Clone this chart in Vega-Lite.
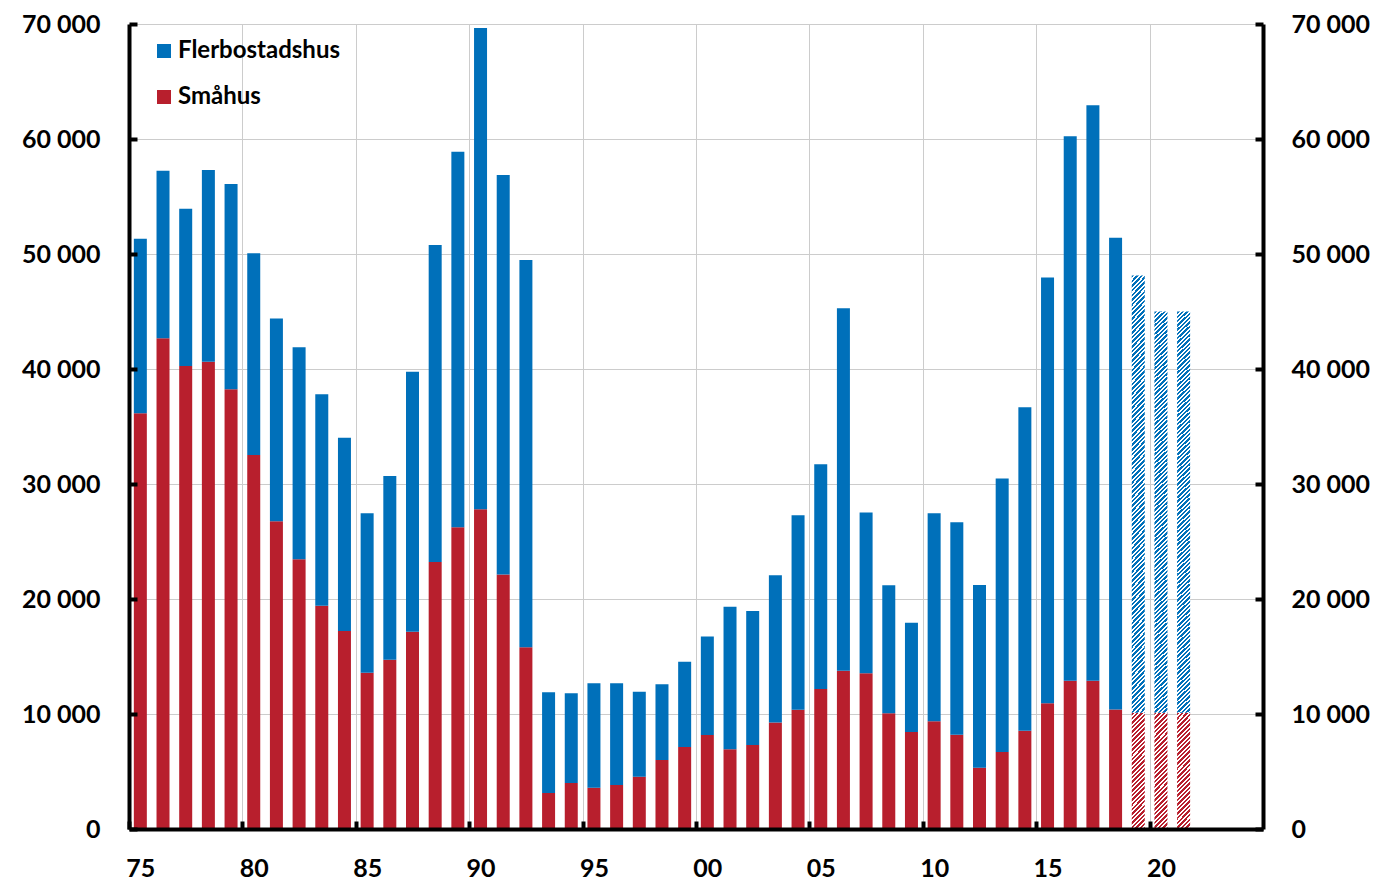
{
"$schema": "https://vega.github.io/schema/vega-lite/v6.json",
"width": 1134, "height": 805,
"autosize": {"type": "none"},
"padding": {"left": 129, "top": 24, "right": 119, "bottom": 53},
"background": "white",
"config": {"view": {"stroke": null}, "font": "Lato"},
"data": {"values": [
{"year":1975,"smahus":36150,"totalt":51330,"prognos":false},
{"year":1976,"smahus":42670,"totalt":57240,"prognos":false},
{"year":1977,"smahus":40260,"totalt":53940,"prognos":false},
{"year":1978,"smahus":40640,"totalt":57300,"prognos":false},
{"year":1979,"smahus":38230,"totalt":56090,"prognos":false},
{"year":1980,"smahus":32520,"totalt":50060,"prognos":false},
{"year":1981,"smahus":26760,"totalt":44400,"prognos":false},
{"year":1982,"smahus":23450,"totalt":41890,"prognos":false},
{"year":1983,"smahus":19420,"totalt":37800,"prognos":false},
{"year":1984,"smahus":17220,"totalt":34030,"prognos":false},
{"year":1985,"smahus":13590,"totalt":27450,"prognos":false},
{"year":1986,"smahus":14720,"totalt":30700,"prognos":false},
{"year":1987,"smahus":17160,"totalt":39770,"prognos":false},
{"year":1988,"smahus":23220,"totalt":50780,"prognos":false},
{"year":1989,"smahus":26230,"totalt":58900,"prognos":false},
{"year":1990,"smahus":27800,"totalt":69650,"prognos":false},
{"year":1991,"smahus":22120,"totalt":56870,"prognos":false},
{"year":1992,"smahus":15800,"totalt":49480,"prognos":false},
{"year":1993,"smahus":3130,"totalt":11900,"prognos":false},
{"year":1994,"smahus":4000,"totalt":11800,"prognos":false},
{"year":1995,"smahus":3590,"totalt":12670,"prognos":false},
{"year":1996,"smahus":3830,"totalt":12670,"prognos":false},
{"year":1997,"smahus":4550,"totalt":11940,"prognos":false},
{"year":1998,"smahus":6000,"totalt":12580,"prognos":false},
{"year":1999,"smahus":7130,"totalt":14550,"prognos":false},
{"year":2000,"smahus":8170,"totalt":16750,"prognos":false},
{"year":2001,"smahus":6930,"totalt":19330,"prognos":false},
{"year":2002,"smahus":7300,"totalt":18960,"prognos":false},
{"year":2003,"smahus":9270,"totalt":22060,"prognos":false},
{"year":2004,"smahus":10380,"totalt":27280,"prognos":false},
{"year":2005,"smahus":12170,"totalt":31710,"prognos":false},
{"year":2006,"smahus":13770,"totalt":45280,"prognos":false},
{"year":2007,"smahus":13540,"totalt":27530,"prognos":false},
{"year":2008,"smahus":10060,"totalt":21190,"prognos":false},
{"year":2009,"smahus":8430,"totalt":17940,"prognos":false},
{"year":2010,"smahus":9360,"totalt":27450,"prognos":false},
{"year":2011,"smahus":8200,"totalt":26670,"prognos":false},
{"year":2012,"smahus":5330,"totalt":21220,"prognos":false},
{"year":2013,"smahus":6700,"totalt":30470,"prognos":false},
{"year":2014,"smahus":8550,"totalt":36670,"prognos":false},
{"year":2015,"smahus":10930,"totalt":47950,"prognos":false},
{"year":2016,"smahus":12900,"totalt":60230,"prognos":false},
{"year":2017,"smahus":12900,"totalt":62930,"prognos":false},
{"year":2018,"smahus":10400,"totalt":51420,"prognos":false},
{"year":2019,"smahus":10100,"totalt":48120,"prognos":true},
{"year":2020,"smahus":10100,"totalt":44990,"prognos":true},
{"year":2021,"smahus":10100,"totalt":44990,"prognos":true}
]},
"layer": [
  {
    "transform": [{"filter": "!datum.prognos"}],
    "mark": {"type": "bar", "width": 13, "xOffset": 11.34},
    "encoding": {
      "x": {"field": "year", "type": "quantitative",
        "scale": {"domain": [1975, 2025], "nice": false, "zero": false, "padding": 0},
        "axis": {"orient": "bottom", "values": [1980,1985,1990,1995,2000,2005,2010,2015,2020],
          "grid": true, "gridColor": "#cccccc", "gridWidth": 1,
          "domain": false, "ticks": false, "labels": false, "title": null, "zindex": 0}},
      "y": {"field": "smahus", "type": "quantitative",
        "scale": {"domain": [0, 70000], "nice": false},
        "axis": {"orient": "left", "values": [10000,20000,30000,40000,50000,60000,70000],
          "grid": true, "gridColor": "#cccccc", "gridWidth": 1,
          "domain": false, "ticks": false, "labels": false, "title": null, "zindex": 0}},
      "color": {"datum": "Småhus", "type": "nominal",
        "scale": {"domain": ["Flerbostadshus", "Småhus"], "range": ["#0070ba", "#b81f2d"]},
        "legend": {"orient": "none", "legendX": 23, "legendY": 15, "title": null, "padding": 0,
          "symbolType": "square", "symbolSize": 196, "symbolStrokeWidth": 0,
          "labelFont": "Lato", "labelFontWeight": "bold", "labelFontSize": 24, "labelColor": "black",
          "labelLimit": 400, "rowPadding": 22, "labelOffset": 2}}
    }
  },
  {
    "transform": [{"filter": "!datum.prognos"}],
    "mark": {"type": "bar", "width": 13, "xOffset": 11.34},
    "encoding": {
      "x": {"field": "year", "type": "quantitative",
        "scale": {"domain": [1975, 2025], "nice": false, "zero": false, "padding": 0},
        "axis": {"orient": "bottom", "values": [1975,1980,1985,1990,1995,2000,2005,2010,2015,2020],
          "labelExpr": "substring(toString(datum.value), 2)",
          "labelOffset": 11.34, "labelPadding": 35, "labelFlush": false, "labelOverlap": false,
          "tickSize": -8, "tickWidth": 4, "tickColor": "black",
          "domainColor": "black", "domainWidth": 4, "grid": false,
          "labelFont": "Lato", "labelFontWeight": "bold", "labelFontSize": 25, "labelColor": "black",
          "title": null, "zindex": 1}},
      "y": {"field": "smahus", "type": "quantitative",
        "scale": {"domain": [0, 70000], "nice": false},
        "axis": {"orient": "left", "values": [0,10000,20000,30000,40000,50000,60000,70000],
          "labelExpr": "replace(format(datum.value, ','), ',', ' ')",
          "grid": false,
          "domainColor": "black", "domainWidth": 4,
          "tickSize": -8, "tickWidth": 4, "tickColor": "black",
          "labelPadding": 37, "labelFont": "Lato", "labelFontWeight": "bold", "labelFontSize": 25, "labelColor": "black",
          "title": null, "zindex": 1}},
      "y2": {"field": "totalt"},
      "color": {"datum": "Flerbostadshus", "type": "nominal"}
    }
  },
  {
    "transform": [{"filter": "datum.prognos"}],
    "mark": {"type": "bar", "width": 13, "xOffset": 11.34,
      "fill": {"gradient": "linear", "x1": 0, "y1": 0, "x2": 0.4368, "y2": 3.8637, "stops": [
{"offset":0,"color":"#b81f2d"},{"offset":0.0055,"color":"#b81f2d"},{"offset":0.0055,"color":"white"},{"offset":0.01,"color":"white"},
{"offset":0.01,"color":"#b81f2d"},{"offset":0.0155,"color":"#b81f2d"},{"offset":0.0155,"color":"white"},{"offset":0.02,"color":"white"},
{"offset":0.02,"color":"#b81f2d"},{"offset":0.0255,"color":"#b81f2d"},{"offset":0.0255,"color":"white"},{"offset":0.03,"color":"white"},
{"offset":0.03,"color":"#b81f2d"},{"offset":0.0355,"color":"#b81f2d"},{"offset":0.0355,"color":"white"},{"offset":0.04,"color":"white"},
{"offset":0.04,"color":"#b81f2d"},{"offset":0.0455,"color":"#b81f2d"},{"offset":0.0455,"color":"white"},{"offset":0.05,"color":"white"},
{"offset":0.05,"color":"#b81f2d"},{"offset":0.0555,"color":"#b81f2d"},{"offset":0.0555,"color":"white"},{"offset":0.06,"color":"white"},
{"offset":0.06,"color":"#b81f2d"},{"offset":0.0655,"color":"#b81f2d"},{"offset":0.0655,"color":"white"},{"offset":0.07,"color":"white"},
{"offset":0.07,"color":"#b81f2d"},{"offset":0.0755,"color":"#b81f2d"},{"offset":0.0755,"color":"white"},{"offset":0.08,"color":"white"},
{"offset":0.08,"color":"#b81f2d"},{"offset":0.0855,"color":"#b81f2d"},{"offset":0.0855,"color":"white"},{"offset":0.09,"color":"white"},
{"offset":0.09,"color":"#b81f2d"},{"offset":0.0955,"color":"#b81f2d"},{"offset":0.0955,"color":"white"},{"offset":0.1,"color":"white"},
{"offset":0.1,"color":"#b81f2d"},{"offset":0.1055,"color":"#b81f2d"},{"offset":0.1055,"color":"white"},{"offset":0.11,"color":"white"},
{"offset":0.11,"color":"#b81f2d"},{"offset":0.1155,"color":"#b81f2d"},{"offset":0.1155,"color":"white"},{"offset":0.12,"color":"white"},
{"offset":0.12,"color":"#b81f2d"},{"offset":0.1255,"color":"#b81f2d"},{"offset":0.1255,"color":"white"},{"offset":0.13,"color":"white"},
{"offset":0.13,"color":"#b81f2d"},{"offset":0.1355,"color":"#b81f2d"},{"offset":0.1355,"color":"white"},{"offset":0.14,"color":"white"},
{"offset":0.14,"color":"#b81f2d"},{"offset":0.1455,"color":"#b81f2d"},{"offset":0.1455,"color":"white"},{"offset":0.15,"color":"white"},
{"offset":0.15,"color":"#b81f2d"},{"offset":0.1555,"color":"#b81f2d"},{"offset":0.1555,"color":"white"},{"offset":0.16,"color":"white"},
{"offset":0.16,"color":"#b81f2d"},{"offset":0.1655,"color":"#b81f2d"},{"offset":0.1655,"color":"white"},{"offset":0.17,"color":"white"},
{"offset":0.17,"color":"#b81f2d"},{"offset":0.1755,"color":"#b81f2d"},{"offset":0.1755,"color":"white"},{"offset":0.18,"color":"white"},
{"offset":0.18,"color":"#b81f2d"},{"offset":0.1855,"color":"#b81f2d"},{"offset":0.1855,"color":"white"},{"offset":0.19,"color":"white"},
{"offset":0.19,"color":"#b81f2d"},{"offset":0.1955,"color":"#b81f2d"},{"offset":0.1955,"color":"white"},{"offset":0.2,"color":"white"},
{"offset":0.2,"color":"#b81f2d"},{"offset":0.2055,"color":"#b81f2d"},{"offset":0.2055,"color":"white"},{"offset":0.21,"color":"white"},
{"offset":0.21,"color":"#b81f2d"},{"offset":0.2155,"color":"#b81f2d"},{"offset":0.2155,"color":"white"},{"offset":0.22,"color":"white"},
{"offset":0.22,"color":"#b81f2d"},{"offset":0.2255,"color":"#b81f2d"},{"offset":0.2255,"color":"white"},{"offset":0.23,"color":"white"},
{"offset":0.23,"color":"#b81f2d"},{"offset":0.2355,"color":"#b81f2d"},{"offset":0.2355,"color":"white"},{"offset":0.24,"color":"white"},
{"offset":0.24,"color":"#b81f2d"},{"offset":0.2455,"color":"#b81f2d"},{"offset":0.2455,"color":"white"},{"offset":0.25,"color":"white"},
{"offset":0.25,"color":"#b81f2d"},{"offset":0.2555,"color":"#b81f2d"},{"offset":0.2555,"color":"white"},{"offset":0.26,"color":"white"},
{"offset":0.26,"color":"#b81f2d"},{"offset":0.2655,"color":"#b81f2d"},{"offset":0.2655,"color":"white"},{"offset":0.27,"color":"white"},
{"offset":0.27,"color":"#b81f2d"},{"offset":0.2755,"color":"#b81f2d"},{"offset":0.2755,"color":"white"},{"offset":0.28,"color":"white"},
{"offset":0.28,"color":"#b81f2d"},{"offset":0.2855,"color":"#b81f2d"},{"offset":0.2855,"color":"white"},{"offset":0.29,"color":"white"},
{"offset":0.29,"color":"#b81f2d"},{"offset":0.2955,"color":"#b81f2d"},{"offset":0.2955,"color":"white"},{"offset":1,"color":"white"}
      ]}},
    "encoding": {
      "x": {"field": "year", "type": "quantitative",
        "scale": {"domain": [1975, 2025], "nice": false, "zero": false, "padding": 0}, "axis": null},
      "y": {"field": "smahus", "type": "quantitative", "scale": {"domain": [0, 70000], "nice": false}, "axis": null}
    }
  },
  {
    "transform": [{"filter": "datum.prognos"}],
    "mark": {"type": "bar", "width": 13, "xOffset": 11.34,
      "fill": {"gradient": "linear", "x1": 0, "y1": 0, "x2": 0.03313, "y2": 1.0704, "stops": [
{"offset":0,"color":"#0070ba"},{"offset":0.0055,"color":"#0070ba"},{"offset":0.0055,"color":"white"},{"offset":0.01,"color":"white"},
{"offset":0.01,"color":"#0070ba"},{"offset":0.0155,"color":"#0070ba"},{"offset":0.0155,"color":"white"},{"offset":0.02,"color":"white"},
{"offset":0.02,"color":"#0070ba"},{"offset":0.0255,"color":"#0070ba"},{"offset":0.0255,"color":"white"},{"offset":0.03,"color":"white"},
{"offset":0.03,"color":"#0070ba"},{"offset":0.0355,"color":"#0070ba"},{"offset":0.0355,"color":"white"},{"offset":0.04,"color":"white"},
{"offset":0.04,"color":"#0070ba"},{"offset":0.0455,"color":"#0070ba"},{"offset":0.0455,"color":"white"},{"offset":0.05,"color":"white"},
{"offset":0.05,"color":"#0070ba"},{"offset":0.0555,"color":"#0070ba"},{"offset":0.0555,"color":"white"},{"offset":0.06,"color":"white"},
{"offset":0.06,"color":"#0070ba"},{"offset":0.0655,"color":"#0070ba"},{"offset":0.0655,"color":"white"},{"offset":0.07,"color":"white"},
{"offset":0.07,"color":"#0070ba"},{"offset":0.0755,"color":"#0070ba"},{"offset":0.0755,"color":"white"},{"offset":0.08,"color":"white"},
{"offset":0.08,"color":"#0070ba"},{"offset":0.0855,"color":"#0070ba"},{"offset":0.0855,"color":"white"},{"offset":0.09,"color":"white"},
{"offset":0.09,"color":"#0070ba"},{"offset":0.0955,"color":"#0070ba"},{"offset":0.0955,"color":"white"},{"offset":0.1,"color":"white"},
{"offset":0.1,"color":"#0070ba"},{"offset":0.1055,"color":"#0070ba"},{"offset":0.1055,"color":"white"},{"offset":0.11,"color":"white"},
{"offset":0.11,"color":"#0070ba"},{"offset":0.1155,"color":"#0070ba"},{"offset":0.1155,"color":"white"},{"offset":0.12,"color":"white"},
{"offset":0.12,"color":"#0070ba"},{"offset":0.1255,"color":"#0070ba"},{"offset":0.1255,"color":"white"},{"offset":0.13,"color":"white"},
{"offset":0.13,"color":"#0070ba"},{"offset":0.1355,"color":"#0070ba"},{"offset":0.1355,"color":"white"},{"offset":0.14,"color":"white"},
{"offset":0.14,"color":"#0070ba"},{"offset":0.1455,"color":"#0070ba"},{"offset":0.1455,"color":"white"},{"offset":0.15,"color":"white"},
{"offset":0.15,"color":"#0070ba"},{"offset":0.1555,"color":"#0070ba"},{"offset":0.1555,"color":"white"},{"offset":0.16,"color":"white"},
{"offset":0.16,"color":"#0070ba"},{"offset":0.1655,"color":"#0070ba"},{"offset":0.1655,"color":"white"},{"offset":0.17,"color":"white"},
{"offset":0.17,"color":"#0070ba"},{"offset":0.1755,"color":"#0070ba"},{"offset":0.1755,"color":"white"},{"offset":0.18,"color":"white"},
{"offset":0.18,"color":"#0070ba"},{"offset":0.1855,"color":"#0070ba"},{"offset":0.1855,"color":"white"},{"offset":0.19,"color":"white"},
{"offset":0.19,"color":"#0070ba"},{"offset":0.1955,"color":"#0070ba"},{"offset":0.1955,"color":"white"},{"offset":0.2,"color":"white"},
{"offset":0.2,"color":"#0070ba"},{"offset":0.2055,"color":"#0070ba"},{"offset":0.2055,"color":"white"},{"offset":0.21,"color":"white"},
{"offset":0.21,"color":"#0070ba"},{"offset":0.2155,"color":"#0070ba"},{"offset":0.2155,"color":"white"},{"offset":0.22,"color":"white"},
{"offset":0.22,"color":"#0070ba"},{"offset":0.2255,"color":"#0070ba"},{"offset":0.2255,"color":"white"},{"offset":0.23,"color":"white"},
{"offset":0.23,"color":"#0070ba"},{"offset":0.2355,"color":"#0070ba"},{"offset":0.2355,"color":"white"},{"offset":0.24,"color":"white"},
{"offset":0.24,"color":"#0070ba"},{"offset":0.2455,"color":"#0070ba"},{"offset":0.2455,"color":"white"},{"offset":0.25,"color":"white"},
{"offset":0.25,"color":"#0070ba"},{"offset":0.2555,"color":"#0070ba"},{"offset":0.2555,"color":"white"},{"offset":0.26,"color":"white"},
{"offset":0.26,"color":"#0070ba"},{"offset":0.2655,"color":"#0070ba"},{"offset":0.2655,"color":"white"},{"offset":0.27,"color":"white"},
{"offset":0.27,"color":"#0070ba"},{"offset":0.2755,"color":"#0070ba"},{"offset":0.2755,"color":"white"},{"offset":0.28,"color":"white"},
{"offset":0.28,"color":"#0070ba"},{"offset":0.2855,"color":"#0070ba"},{"offset":0.2855,"color":"white"},{"offset":0.29,"color":"white"},
{"offset":0.29,"color":"#0070ba"},{"offset":0.2955,"color":"#0070ba"},{"offset":0.2955,"color":"white"},{"offset":0.3,"color":"white"},
{"offset":0.3,"color":"#0070ba"},{"offset":0.3055,"color":"#0070ba"},{"offset":0.3055,"color":"white"},{"offset":0.31,"color":"white"},
{"offset":0.31,"color":"#0070ba"},{"offset":0.3155,"color":"#0070ba"},{"offset":0.3155,"color":"white"},{"offset":0.32,"color":"white"},
{"offset":0.32,"color":"#0070ba"},{"offset":0.3255,"color":"#0070ba"},{"offset":0.3255,"color":"white"},{"offset":0.33,"color":"white"},
{"offset":0.33,"color":"#0070ba"},{"offset":0.3355,"color":"#0070ba"},{"offset":0.3355,"color":"white"},{"offset":0.34,"color":"white"},
{"offset":0.34,"color":"#0070ba"},{"offset":0.3455,"color":"#0070ba"},{"offset":0.3455,"color":"white"},{"offset":0.35,"color":"white"},
{"offset":0.35,"color":"#0070ba"},{"offset":0.3555,"color":"#0070ba"},{"offset":0.3555,"color":"white"},{"offset":0.36,"color":"white"},
{"offset":0.36,"color":"#0070ba"},{"offset":0.3655,"color":"#0070ba"},{"offset":0.3655,"color":"white"},{"offset":0.37,"color":"white"},
{"offset":0.37,"color":"#0070ba"},{"offset":0.3755,"color":"#0070ba"},{"offset":0.3755,"color":"white"},{"offset":0.38,"color":"white"},
{"offset":0.38,"color":"#0070ba"},{"offset":0.3855,"color":"#0070ba"},{"offset":0.3855,"color":"white"},{"offset":0.39,"color":"white"},
{"offset":0.39,"color":"#0070ba"},{"offset":0.3955,"color":"#0070ba"},{"offset":0.3955,"color":"white"},{"offset":0.4,"color":"white"},
{"offset":0.4,"color":"#0070ba"},{"offset":0.4055,"color":"#0070ba"},{"offset":0.4055,"color":"white"},{"offset":0.41,"color":"white"},
{"offset":0.41,"color":"#0070ba"},{"offset":0.4155,"color":"#0070ba"},{"offset":0.4155,"color":"white"},{"offset":0.42,"color":"white"},
{"offset":0.42,"color":"#0070ba"},{"offset":0.4255,"color":"#0070ba"},{"offset":0.4255,"color":"white"},{"offset":0.43,"color":"white"},
{"offset":0.43,"color":"#0070ba"},{"offset":0.4355,"color":"#0070ba"},{"offset":0.4355,"color":"white"},{"offset":0.44,"color":"white"},
{"offset":0.44,"color":"#0070ba"},{"offset":0.4455,"color":"#0070ba"},{"offset":0.4455,"color":"white"},{"offset":0.45,"color":"white"},
{"offset":0.45,"color":"#0070ba"},{"offset":0.4555,"color":"#0070ba"},{"offset":0.4555,"color":"white"},{"offset":0.46,"color":"white"},
{"offset":0.46,"color":"#0070ba"},{"offset":0.4655,"color":"#0070ba"},{"offset":0.4655,"color":"white"},{"offset":0.47,"color":"white"},
{"offset":0.47,"color":"#0070ba"},{"offset":0.4755,"color":"#0070ba"},{"offset":0.4755,"color":"white"},{"offset":0.48,"color":"white"},
{"offset":0.48,"color":"#0070ba"},{"offset":0.4855,"color":"#0070ba"},{"offset":0.4855,"color":"white"},{"offset":0.49,"color":"white"},
{"offset":0.49,"color":"#0070ba"},{"offset":0.4955,"color":"#0070ba"},{"offset":0.4955,"color":"white"},{"offset":0.5,"color":"white"},
{"offset":0.5,"color":"#0070ba"},{"offset":0.5055,"color":"#0070ba"},{"offset":0.5055,"color":"white"},{"offset":0.51,"color":"white"},
{"offset":0.51,"color":"#0070ba"},{"offset":0.5155,"color":"#0070ba"},{"offset":0.5155,"color":"white"},{"offset":0.52,"color":"white"},
{"offset":0.52,"color":"#0070ba"},{"offset":0.5255,"color":"#0070ba"},{"offset":0.5255,"color":"white"},{"offset":0.53,"color":"white"},
{"offset":0.53,"color":"#0070ba"},{"offset":0.5355,"color":"#0070ba"},{"offset":0.5355,"color":"white"},{"offset":0.54,"color":"white"},
{"offset":0.54,"color":"#0070ba"},{"offset":0.5455,"color":"#0070ba"},{"offset":0.5455,"color":"white"},{"offset":0.55,"color":"white"},
{"offset":0.55,"color":"#0070ba"},{"offset":0.5555,"color":"#0070ba"},{"offset":0.5555,"color":"white"},{"offset":0.56,"color":"white"},
{"offset":0.56,"color":"#0070ba"},{"offset":0.5655,"color":"#0070ba"},{"offset":0.5655,"color":"white"},{"offset":0.57,"color":"white"},
{"offset":0.57,"color":"#0070ba"},{"offset":0.5755,"color":"#0070ba"},{"offset":0.5755,"color":"white"},{"offset":0.58,"color":"white"},
{"offset":0.58,"color":"#0070ba"},{"offset":0.5855,"color":"#0070ba"},{"offset":0.5855,"color":"white"},{"offset":0.59,"color":"white"},
{"offset":0.59,"color":"#0070ba"},{"offset":0.5955,"color":"#0070ba"},{"offset":0.5955,"color":"white"},{"offset":0.6,"color":"white"},
{"offset":0.6,"color":"#0070ba"},{"offset":0.6055,"color":"#0070ba"},{"offset":0.6055,"color":"white"},{"offset":0.61,"color":"white"},
{"offset":0.61,"color":"#0070ba"},{"offset":0.6155,"color":"#0070ba"},{"offset":0.6155,"color":"white"},{"offset":0.62,"color":"white"},
{"offset":0.62,"color":"#0070ba"},{"offset":0.6255,"color":"#0070ba"},{"offset":0.6255,"color":"white"},{"offset":0.63,"color":"white"},
{"offset":0.63,"color":"#0070ba"},{"offset":0.6355,"color":"#0070ba"},{"offset":0.6355,"color":"white"},{"offset":0.64,"color":"white"},
{"offset":0.64,"color":"#0070ba"},{"offset":0.6455,"color":"#0070ba"},{"offset":0.6455,"color":"white"},{"offset":0.65,"color":"white"},
{"offset":0.65,"color":"#0070ba"},{"offset":0.6555,"color":"#0070ba"},{"offset":0.6555,"color":"white"},{"offset":0.66,"color":"white"},
{"offset":0.66,"color":"#0070ba"},{"offset":0.6655,"color":"#0070ba"},{"offset":0.6655,"color":"white"},{"offset":0.67,"color":"white"},
{"offset":0.67,"color":"#0070ba"},{"offset":0.6755,"color":"#0070ba"},{"offset":0.6755,"color":"white"},{"offset":0.68,"color":"white"},
{"offset":0.68,"color":"#0070ba"},{"offset":0.6855,"color":"#0070ba"},{"offset":0.6855,"color":"white"},{"offset":0.69,"color":"white"},
{"offset":0.69,"color":"#0070ba"},{"offset":0.6955,"color":"#0070ba"},{"offset":0.6955,"color":"white"},{"offset":0.7,"color":"white"},
{"offset":0.7,"color":"#0070ba"},{"offset":0.7055,"color":"#0070ba"},{"offset":0.7055,"color":"white"},{"offset":0.71,"color":"white"},
{"offset":0.71,"color":"#0070ba"},{"offset":0.7155,"color":"#0070ba"},{"offset":0.7155,"color":"white"},{"offset":0.72,"color":"white"},
{"offset":0.72,"color":"#0070ba"},{"offset":0.7255,"color":"#0070ba"},{"offset":0.7255,"color":"white"},{"offset":0.73,"color":"white"},
{"offset":0.73,"color":"#0070ba"},{"offset":0.7355,"color":"#0070ba"},{"offset":0.7355,"color":"white"},{"offset":0.74,"color":"white"},
{"offset":0.74,"color":"#0070ba"},{"offset":0.7455,"color":"#0070ba"},{"offset":0.7455,"color":"white"},{"offset":0.75,"color":"white"},
{"offset":0.75,"color":"#0070ba"},{"offset":0.7555,"color":"#0070ba"},{"offset":0.7555,"color":"white"},{"offset":0.76,"color":"white"},
{"offset":0.76,"color":"#0070ba"},{"offset":0.7655,"color":"#0070ba"},{"offset":0.7655,"color":"white"},{"offset":0.77,"color":"white"},
{"offset":0.77,"color":"#0070ba"},{"offset":0.7755,"color":"#0070ba"},{"offset":0.7755,"color":"white"},{"offset":0.78,"color":"white"},
{"offset":0.78,"color":"#0070ba"},{"offset":0.7855,"color":"#0070ba"},{"offset":0.7855,"color":"white"},{"offset":0.79,"color":"white"},
{"offset":0.79,"color":"#0070ba"},{"offset":0.7955,"color":"#0070ba"},{"offset":0.7955,"color":"white"},{"offset":0.8,"color":"white"},
{"offset":0.8,"color":"#0070ba"},{"offset":0.8055,"color":"#0070ba"},{"offset":0.8055,"color":"white"},{"offset":0.81,"color":"white"},
{"offset":0.81,"color":"#0070ba"},{"offset":0.8155,"color":"#0070ba"},{"offset":0.8155,"color":"white"},{"offset":0.82,"color":"white"},
{"offset":0.82,"color":"#0070ba"},{"offset":0.8255,"color":"#0070ba"},{"offset":0.8255,"color":"white"},{"offset":0.83,"color":"white"},
{"offset":0.83,"color":"#0070ba"},{"offset":0.8355,"color":"#0070ba"},{"offset":0.8355,"color":"white"},{"offset":0.84,"color":"white"},
{"offset":0.84,"color":"#0070ba"},{"offset":0.8455,"color":"#0070ba"},{"offset":0.8455,"color":"white"},{"offset":0.85,"color":"white"},
{"offset":0.85,"color":"#0070ba"},{"offset":0.8555,"color":"#0070ba"},{"offset":0.8555,"color":"white"},{"offset":0.86,"color":"white"},
{"offset":0.86,"color":"#0070ba"},{"offset":0.8655,"color":"#0070ba"},{"offset":0.8655,"color":"white"},{"offset":0.87,"color":"white"},
{"offset":0.87,"color":"#0070ba"},{"offset":0.8755,"color":"#0070ba"},{"offset":0.8755,"color":"white"},{"offset":0.88,"color":"white"},
{"offset":0.88,"color":"#0070ba"},{"offset":0.8855,"color":"#0070ba"},{"offset":0.8855,"color":"white"},{"offset":0.89,"color":"white"},
{"offset":0.89,"color":"#0070ba"},{"offset":0.8955,"color":"#0070ba"},{"offset":0.8955,"color":"white"},{"offset":0.9,"color":"white"},
{"offset":0.9,"color":"#0070ba"},{"offset":0.9055,"color":"#0070ba"},{"offset":0.9055,"color":"white"},{"offset":0.91,"color":"white"},
{"offset":0.91,"color":"#0070ba"},{"offset":0.9155,"color":"#0070ba"},{"offset":0.9155,"color":"white"},{"offset":0.92,"color":"white"},
{"offset":0.92,"color":"#0070ba"},{"offset":0.9255,"color":"#0070ba"},{"offset":0.9255,"color":"white"},{"offset":0.93,"color":"white"},
{"offset":0.93,"color":"#0070ba"},{"offset":0.9355,"color":"#0070ba"},{"offset":0.9355,"color":"white"},{"offset":0.94,"color":"white"},
{"offset":0.94,"color":"#0070ba"},{"offset":0.9455,"color":"#0070ba"},{"offset":0.9455,"color":"white"},{"offset":0.95,"color":"white"},
{"offset":0.95,"color":"#0070ba"},{"offset":0.9555,"color":"#0070ba"},{"offset":0.9555,"color":"white"},{"offset":0.96,"color":"white"},
{"offset":0.96,"color":"#0070ba"},{"offset":0.9655,"color":"#0070ba"},{"offset":0.9655,"color":"white"},{"offset":0.97,"color":"white"},
{"offset":0.97,"color":"#0070ba"},{"offset":0.9755,"color":"#0070ba"},{"offset":0.9755,"color":"white"},{"offset":0.98,"color":"white"},
{"offset":0.98,"color":"#0070ba"},{"offset":0.9855,"color":"#0070ba"},{"offset":0.9855,"color":"white"},{"offset":0.99,"color":"white"},
{"offset":0.99,"color":"#0070ba"},{"offset":0.9955,"color":"#0070ba"},{"offset":0.9955,"color":"white"},{"offset":1,"color":"white"}
      ]}},
    "encoding": {
      "x": {"field": "year", "type": "quantitative",
        "scale": {"domain": [1975, 2025], "nice": false, "zero": false, "padding": 0}, "axis": null},
      "y": {"field": "smahus", "type": "quantitative",
        "scale": {"domain": [0, 70000], "nice": false},
        "axis": {"orient": "right", "values": [0,10000,20000,30000,40000,50000,60000,70000],
          "labelExpr": "replace(format(datum.value, ','), ',', ' ')",
          "grid": false,
          "domainColor": "black", "domainWidth": 4,
          "tickSize": -8, "tickWidth": 4, "tickColor": "black",
          "labelPadding": 36, "labelFont": "Lato", "labelFontWeight": "bold", "labelFontSize": 25, "labelColor": "black",
          "title": null, "zindex": 1}},
      "y2": {"field": "totalt"}
    }
  }
],
"resolve": {"axis": {"x": "independent", "y": "independent"}}
}
